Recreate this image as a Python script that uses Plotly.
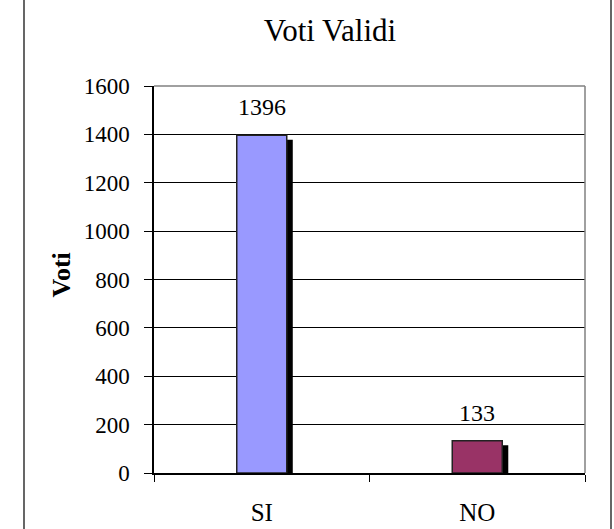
import plotly.graph_objects as go

categories = ["SI", "NO"]
values = [1396, 133]
bar_colors = ["#9999FF", "#993366"]
y_ticks = [0, 200, 400, 600, 800, 1000, 1200, 1400, 1600]
title_text = "Voti Validi"
y_title = "Voti"

FONT = "Liberation Serif"
W, H = 614, 529
PL, PR, PT, PB = 154, 585, 86, 473
L, T, R, B = PL, PT, W - PR, H - PB
pw = PR - PL
ph = PB - PT

bar_w = 0.232
shadow_dx = 0.028
shadow_dy = 18

fig = go.Figure()
fig.add_trace(go.Bar(
    x=categories, y=[v - shadow_dy for v in values],
    width=bar_w, offset=-bar_w / 2 + shadow_dx,
    marker=dict(color="black", line=dict(width=0)),
    hoverinfo="skip", showlegend=False,
))
fig.add_trace(go.Bar(
    x=categories, y=values,
    width=bar_w, offset=-bar_w / 2,
    marker=dict(color=bar_colors, line=dict(color="#222222", width=1.5)),
    showlegend=False,
))

for c, v in zip(categories, values):
    fig.add_annotation(x=c, y=v, text=str(v), showarrow=False,
                       yanchor="bottom", yshift=13,
                       font=dict(family=FONT, size=24, color="black"))

fig.add_annotation(xref="paper", yref="paper",
                   x=(61 - PL) / pw, y=(PB - 275.5) / ph,
                   text="<b>" + y_title + "</b>", textangle=-90,
                   showarrow=False, xanchor="center", yanchor="middle",
                   font=dict(family=FONT, size=26, color="black"))

fig.add_shape(type="line", xref="paper", yref="paper", x0=0, x1=1, y0=1, y1=1,
              line=dict(color="#808080", width=1.5), layer="above")
fig.add_shape(type="line", xref="paper", yref="paper", x0=1, x1=1, y0=0, y1=1,
              line=dict(color="#808080", width=1.5), layer="above")
for px in (24, 611):
    fig.add_shape(type="line", xref="paper", yref="paper",
                  x0=(px - PL) / pw, x1=(px - PL) / pw, y0=-0.3, y1=1.4,
                  line=dict(color="black", width=1.2), layer="above")

fig.update_layout(
    width=W, height=H,
    margin=dict(l=L, r=R, t=T, b=B, autoexpand=False),
    paper_bgcolor="white", plot_bgcolor="white",
    barmode="overlay",
    title=dict(text=title_text, x=330 / W, xref="container", xanchor="center",
               y=1 - 30 / H, yref="container", yanchor="middle",
               font=dict(family=FONT, size=31, color="black")),
    xaxis=dict(type="category", range=[-0.5, 1.5], showgrid=False,
               showline=True, linecolor="black", linewidth=1.5,
               ticks="outside", tickson="boundaries", ticklen=7,
               tickcolor="black", tickwidth=1.2,
               ticklabelstandoff=16,
               tickfont=dict(family=FONT, size=25, color="black")),
    yaxis=dict(range=[0, 1600], tickvals=y_ticks, showgrid=True,
               gridcolor="black", gridwidth=1,
               showline=True, linecolor="black", linewidth=1.5,
               ticks="outside", ticklen=8, tickcolor="black", tickwidth=1.2,
               ticklabelstandoff=10, zeroline=False,
               tickfont=dict(family=FONT, size=23, color="black")),
)

fig.write_html(
    "out.html",
    config={"displayModeBar": False},
    post_script="document.body.style.margin='0';document.body.style.overflow='hidden';",
)
